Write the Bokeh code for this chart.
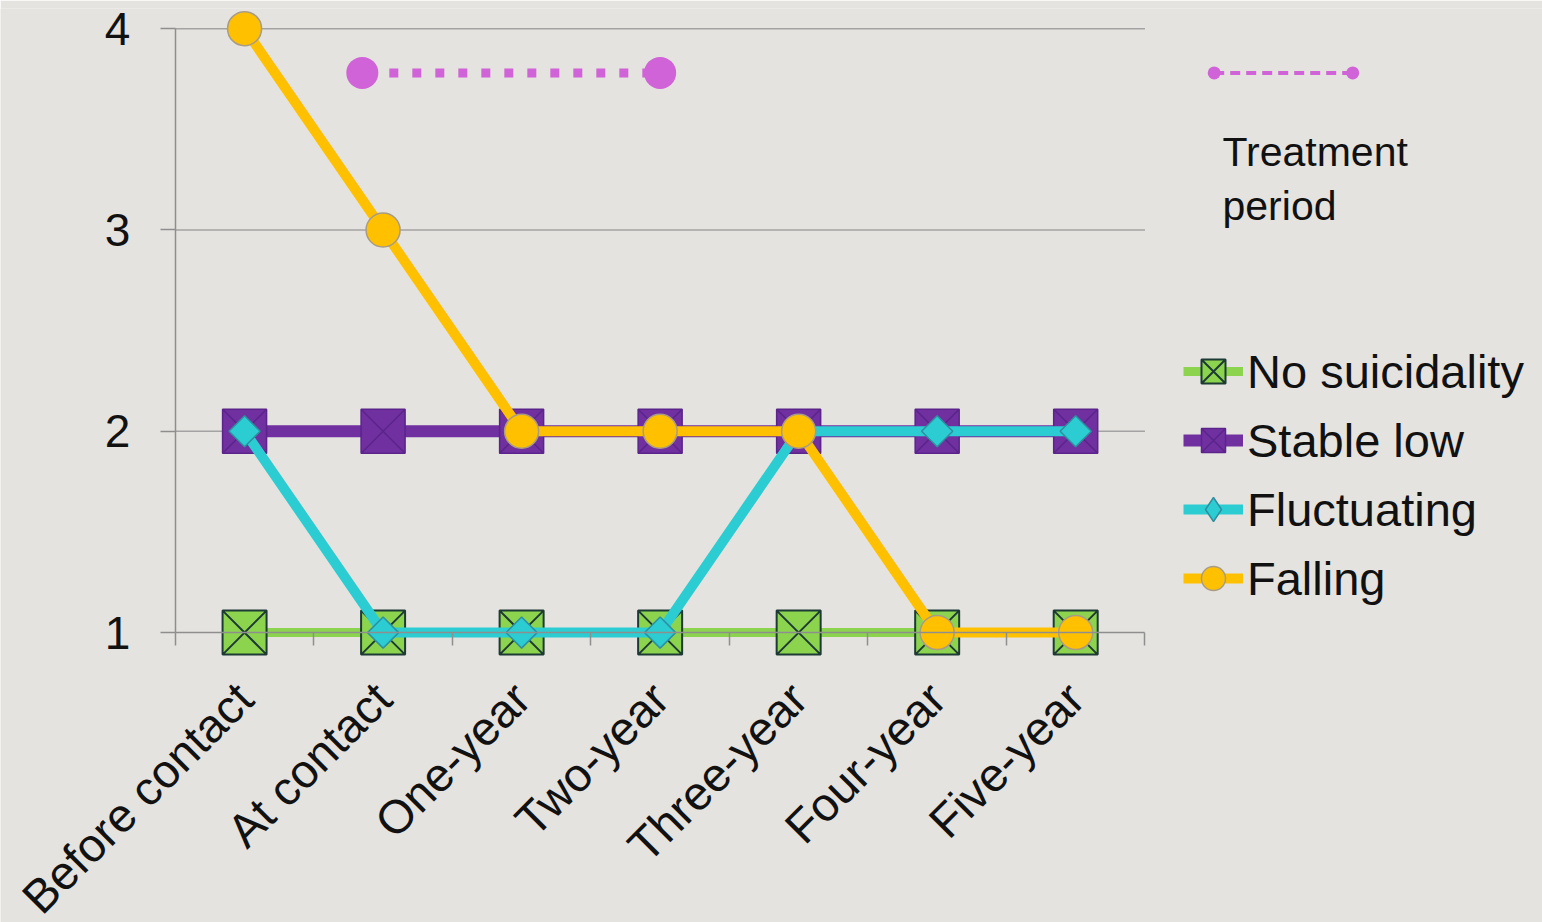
import numpy as np
from bokeh.plotting import figure
from bokeh.models import (Range1d, LinearAxis, FixedTicker, Legend, LegendItem, Label,
                          CustomJSTickFormatter)
from bokeh.embed import file_html
from bokeh.resources import INLINE

# ---------------- data ----------------
categories = ["Before contact", "At contact", "One-year", "Two-year",
              "Three-year", "Four-year", "Five-year"]
y_ticks = [1, 2, 3, 4]
series_names = ["No suicidality", "Stable low", "Fluctuating", "Falling"]
no_suicidality = [1, 1, 1, 1, 1, 1, 1]
stable_low = [2, 2, 2, 2, 2, 2, 2]
fluctuating = [2, 1, 1, 1, 2, 2, 2]
falling = [4, 3, 2, 2, 2, 1, 1]
treatment_x = [0.85, 3.0]
treatment_y = [3.78, 3.78]
treatment_label = "Treatment\nperiod"

# ---------------- style ----------------
BG = "#E5E3DF"
FONT = "Liberation Sans"
TEXT = "#111111"
AXIS_COLOR = "#8E8E8E"
GRID_COLOR = "#A3A3A3"
MAG = "#D063D7"

x = list(range(len(categories)))
n = len(categories)

# the frame spans the whole canvas; both axes are pinned with fixed_location
# (category axis at value 1, value axis at the left category boundary)
p = figure(width=1542, height=922, output_backend="svg", toolbar_location=None,
           x_range=Range1d(-1.762, 9.37), y_range=Range1d(-0.44, 4.1),
           x_axis_type=None, y_axis_type=None,
           min_border_left=0, min_border_top=8, min_border_right=0, min_border_bottom=0,
           background_fill_color=BG, border_fill_color=BG, outline_line_color=None)

# y axis
yaxis = LinearAxis(ticker=FixedTicker(ticks=y_ticks), bounds=(1, 4), fixed_location=-0.5,
                   axis_line_color=AXIS_COLOR, axis_line_width=1.5,
                   major_tick_line_color=AXIS_COLOR, major_tick_line_width=1.5,
                   major_tick_in=0, major_tick_out=15, minor_tick_line_color=None,
                   major_label_text_font=FONT, major_label_text_font_size="46px",
                   major_label_text_color=TEXT, major_label_standoff=30)
p.add_layout(yaxis, "left")

# x axis line at value 1 + boundary ticks
boundaries = [i - 0.5 for i in range(n + 1)]
xtick_axis = LinearAxis(ticker=FixedTicker(ticks=boundaries), bounds=(-0.5, n - 0.5),
                        fixed_location=1,
                        formatter=CustomJSTickFormatter(code="return ''"),
                        axis_line_color=AXIS_COLOR, axis_line_width=1.5,
                        major_tick_line_color=AXIS_COLOR, major_tick_line_width=1.5,
                        major_tick_in=0, major_tick_out=13, minor_tick_line_color=None,
                        major_label_standoff=0)
p.add_layout(xtick_axis, "below")

# category labels
label_axis = LinearAxis(ticker=FixedTicker(ticks=x), fixed_location=1,
                        major_label_overrides={i: c for i, c in enumerate(categories)},
                        axis_line_color=None, major_tick_line_color=None,
                        minor_tick_line_color=None, major_tick_out=0, major_tick_in=0,
                        major_label_orientation=np.radians(45),
                        major_label_text_font=FONT, major_label_text_font_size="47px",
                        major_label_text_color=TEXT, major_label_standoff=58)
p.add_layout(label_axis, "below")

# gridlines
p.segment(x0=-0.5, x1=n - 0.5, y0=y_ticks[1:], y1=y_ticks[1:],
          line_color=GRID_COLOR, line_width=1.5)

specs = [
    (no_suicidality, "#8DD44E", 9,
     dict(marker="square_x", size=44, fill_color="#8DD44E", line_color="#1D3A35", line_width=2),
     None),
    (stable_low, "#7030A0", 12,
     dict(marker="square_x", size=44, fill_color="#7030A0", line_color="#5A248A", line_width=1.5),
     None),
    (fluctuating, "#2BCDD2", 10,
     dict(marker="square", size=22, angle=np.pi / 4, fill_color="#2BCDD2",
          line_color="#2E8FA0", line_width=1.5),
     dict(marker="diamond", size=29, fill_color="#2BCDD2", line_color="#2E8FA0", line_width=1.5)),
    (falling, "#FFC000", 10,
     dict(marker="circle", size=34, fill_color="#FFC000", line_color="#A99C86", line_width=1.5),
     None),
]

items = []
for name, (vals, color, lw, mk, legend_mk) in zip(series_names, specs):
    lr = p.line(x, vals, line_color=color, line_width=lw)
    rend = [lr]
    if legend_mk is not None:
        # diamond used for the legend sample; it sits fully under the plotted diamonds
        rend.append(p.scatter(x, vals, **legend_mk))
        p.scatter(x, vals, **mk)
    else:
        rend.append(p.scatter(x, vals, **mk))
    items.append(LegendItem(label=name, renderers=rend))

# treatment period
p.line(treatment_x, treatment_y, line_color=MAG, line_width=9, line_dash="9 14",
       line_dash_offset=-4)
p.scatter(treatment_x, treatment_y, marker="circle", size=32, fill_color=MAG, line_color=None)

# treatment legend sample
sample_x = [7.0, 8.0]
p.line(sample_x, treatment_y, line_color=MAG, line_width=4, line_dash="10 6")
p.scatter(sample_x, treatment_y, marker="circle", size=13, fill_color=MAG, line_color=None)
p.add_layout(Label(x=7.06, y=3.50, text=treatment_label, text_font=FONT,
                   text_font_size="41px", text_baseline="top", text_color=TEXT,
                   text_line_height=1.17))

legend = Legend(items=items, location=(1183, 314), orientation="vertical",
                glyph_width=60, glyph_height=60, spacing=9, padding=0, margin=0,
                label_standoff=4, label_text_font=FONT, label_text_font_size="47px",
                label_text_color=TEXT, border_line_color=None, background_fill_alpha=0)
p.add_layout(legend)

open("out.html", "w").write(file_html(p, INLINE))
